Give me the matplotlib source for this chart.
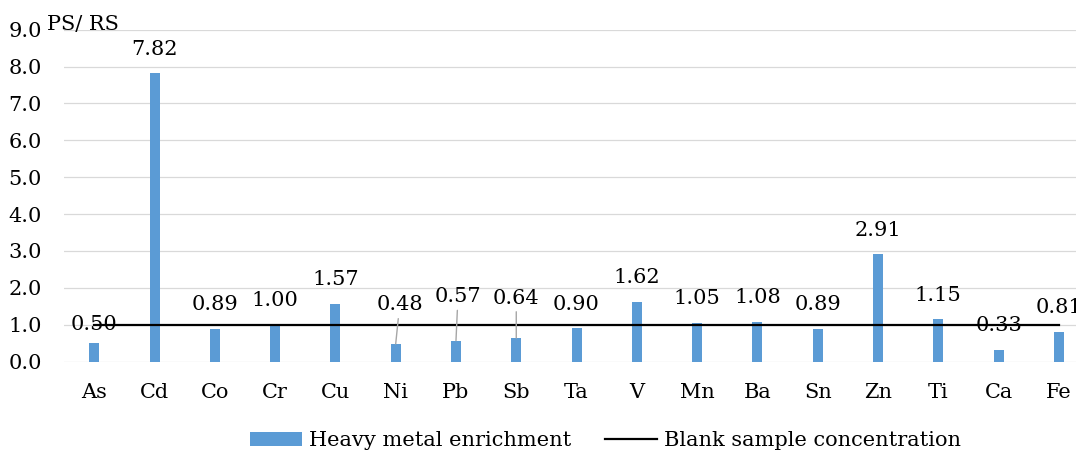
import matplotlib
matplotlib.use("Agg")
import matplotlib.pyplot as plt
from matplotlib.patches import Patch
from matplotlib.lines import Line2D

# enrichment ratio of each metal (polluted sample / reference sample)
metals = ["As", "Cd", "Co", "Cr", "Cu", "Ni", "Pb", "Sb", "Ta", "V",
          "Mn", "Ba", "Sn", "Zn", "Ti", "Ca", "Fe"]
enrichment = [0.50, 7.82, 0.89, 1.00, 1.57, 0.48, 0.57, 0.64, 0.90, 1.62,
              1.05, 1.08, 0.89, 2.91, 1.15, 0.33, 0.81]
blank_level = [1.0] * len(metals)
y_ticks = [0, 1, 2, 3, 4, 5, 6, 7, 8, 9]

BAR_BLUE = "#5B9BD5"
GRID_GREY = "#D9D9D9"
LEADER_GREY = "#A6A6A6"
FS = 15

plt.rcParams["font.family"] = ["DejaVu Serif"]

W, H = 1076, 450
fig = plt.figure(figsize=(W / 100, H / 100), dpi=100)
# plot area runs a little past the right edge of the canvas
left_px, right_px, bottom_px, top_px = 64.1, 1089.0, 361.7, 29.6
ax = fig.add_axes([left_px / W, 1 - bottom_px / H,
                   (right_px - left_px) / W, (bottom_px - top_px) / H])

x = list(range(len(metals)))
ax.bar(x, enrichment, width=0.165, color=BAR_BLUE, zorder=2)
ax.plot(x, blank_level, color="black", lw=1.6, zorder=3)

# value labels: (dx, dy) pixel nudges, leader line drawn for the moved ones
nudges = {"As": (0, -5), "Ni": (4, 15), "Pb": (2, 20), "Sb": (0, 16)}
leaders = {"Ni", "Pb", "Sb"}
for xi, name, val in zip(x, metals, enrichment):
    dx, dy = nudges.get(name, (0, 0))
    props = None
    if name in leaders:
        props = dict(arrowstyle="-", color=LEADER_GREY, lw=1.0, shrinkA=1, shrinkB=0)
    ax.annotate(f"{val:.2f}", xy=(xi, val), xytext=(dx, 24 + dy),
                textcoords="offset pixels", ha="center", va="center",
                fontsize=FS, color="#000000", zorder=4, arrowprops=props,
                annotation_clip=False)

ax.set_xlim(-0.5, len(metals) - 0.5)
ax.set_ylim(0, 9)
ax.set_yticks(y_ticks)
ax.set_yticklabels([f"{t:.1f}" for t in y_ticks], fontsize=FS)
ax.set_xticks(x)
ax.set_xticklabels(metals, fontsize=FS)
ax.tick_params(axis="both", length=0)
ax.tick_params(axis="y", pad=16)
ax.tick_params(axis="x", pad=15)
ax.yaxis.grid(True, color=GRID_GREY, lw=0.9, zorder=0)
ax.set_axisbelow(True)
for s in ax.spines.values():
    s.set_visible(False)

fig.text(47 / W, 1 - 25 / H, "PS/ RS", fontsize=FS, ha="left", va="center")

handles = [Patch(facecolor=BAR_BLUE, edgecolor="none"),
           Line2D([0], [0], color="black", lw=1.6)]
fig.legend(handles, ["Heavy metal enrichment", "Blank sample concentration"],
           loc="center", bbox_to_anchor=(605.5 / W, 1 - 441 / H), ncol=2,
           frameon=False, fontsize=FS, handlelength=2.5, handleheight=0.65,
           handletextpad=0.35, columnspacing=1.6, borderpad=0)

fig.savefig("out.png", dpi=100)
